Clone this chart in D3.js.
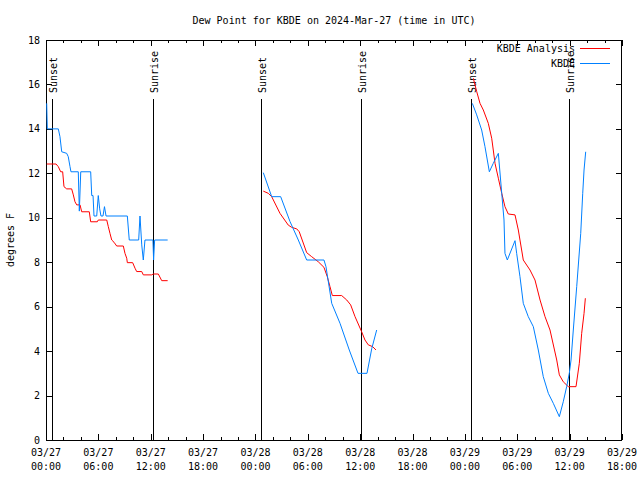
<!DOCTYPE html>
<html>
<head>
<meta charset="utf-8">
<script src="https://cdn.jsdelivr.net/npm/d3@7"></script>
<style>
  html, body { margin: 0; padding: 0; background: #fff; }
  svg { display: block; }
  text { font-family: "DejaVu Sans Mono", monospace; font-size: 10px; fill: #000; }
</style>
</head>
<body>
<div id="chart"></div>
<script>
// ---- Data (hours after 2024-03-27 00:00 UTC; dew point in °F; null = gap) ----
const titleText = "Dew Point for KBDE on 2024-Mar-27 (time in UTC)";
const yLabel = "degrees F";
const yTicks = [0, 2, 4, 6, 8, 10, 12, 14, 16, 18];
const xTickHours = [0, 6, 12, 18, 24, 30, 36, 42, 48, 54, 60, 66];
const seriesNames = ["KBDE Analysis", "KBDE"];
const seriesColors = ["#ff0000", "#0080ff"];

const obsHours = [0.08, 0.15, 1.41, 1.60, 1.80, 2.37, 2.55, 2.75, 2.86, 3.70, 3.82, 3.98, 5.12, 5.24, 5.39, 5.50, 5.81, 5.99, 6.15, 6.30, 6.53, 6.70, 6.88, 9.32, 9.54, 10.62, 10.77, 10.97, 11.15, 11.34, 12.25, 12.33, 12.45, 13.94,
  null,
  24.90, 25.86, 26.89, 27.96, 28.91, 29.87, 31.85, 32.08, 32.74, 33.69, 34.75, 35.75, 36.78, 37.32, 37.89,
  null,
  48.85, 49.35, 49.92, 50.30, 50.80, 51.25, 51.83, 52.22, 52.48, 52.59, 52.86, 53.74, 53.93, 54.31, 54.69, 55.26, 55.84, 56.41, 56.98, 57.56, 58.13, 58.82, 59.27, 59.66, 59.96, 60.16, 60.42, 60.81, 61.27, 61.50, 61.65, 61.84];
const obsDew = [15.15, 14.0, 14.0, 13.65, 12.97, 12.9, 12.75, 12.3, 12.07, 12.07, 10.3, 12.07, 12.07, 11.0, 11.0, 10.08, 10.08, 11.0, 10.4, 10.08, 10.08, 10.5, 10.08, 10.08, 9.0, 9.0, 10.08, 8.78, 8.1, 9.0, 9.0, 8.1, 9.0, 9.0,
  null,
  12.03, 10.95, 10.95, 9.83, 9.0, 8.1, 8.1, 7.8, 6.15, 5.25, 4.05, 3.0, 3.0, 4.1, 4.95,
  null,
  15.15, 14.63, 13.95, 13.2, 12.07, 12.45, 12.9, 11.1, 9.9, 8.4, 8.1, 8.97, 8.4, 7.35, 6.15, 5.55, 5.1, 4.05, 2.85, 2.1, 1.65, 1.05, 1.72, 2.4, 3.0, 3.6, 4.95, 6.9, 9.3, 11.1, 12.15, 12.97];

const anaHours = [0.08, 1.15, 1.41, 1.68, 1.91, 2.06, 2.37, 2.94, 3.13, 3.32, 3.52, 3.90, 4.09, 4.96, 5.12, 5.88, 5.99, 6.96, 7.14, 7.33, 7.53, 7.79, 8.10, 8.86, 9.05, 9.25, 9.32, 9.93, 10.20, 10.39, 10.97, 11.15, 12.11, 12.29, 12.87, 13.26, 13.94,
  null,
  24.90, 25.47, 25.86, 26.81, 27.76, 28.15, 28.73, 29.02, 29.87, 30.44, 31.20, 31.85, 32.23, 32.54, 32.81, 33.88, 34.46, 34.91, 35.41, 36.17, 36.55, 36.93, 37.43, 37.81,
  null,
  48.96, 49.35, 49.73, 50.11, 50.68, 51.07, 51.25, 51.45, 51.83, 52.22, 52.59, 52.97, 53.74, 54.12, 54.31, 54.69, 55.46, 56.03, 56.61, 57.18, 57.75, 58.52, 58.82, 59.27, 59.85, 60.73, 61.11, 61.38, 61.65, 61.80];
const anaDew = [12.42, 12.42, 12.3, 12.07, 12.07, 11.4, 11.3, 11.3, 11.03, 10.72, 10.58, 10.58, 10.27, 10.27, 9.82, 9.82, 9.9, 9.9, 9.6, 9.3, 9.0, 8.9, 8.73, 8.73, 8.4, 8.18, 7.98, 7.98, 7.73, 7.58, 7.58, 7.43, 7.43, 7.47, 7.47, 7.17, 7.17,
  null,
  11.2, 11.1, 10.95, 10.2, 9.67, 9.57, 9.5, 9.37, 8.43, 8.25, 8.02, 7.77, 7.35, 6.9, 6.5, 6.5, 6.3, 6.08, 5.55, 4.87, 4.5, 4.28, 4.2, 4.05,
  null,
  16.28, 15.68, 15.15, 14.85, 14.25, 13.58, 13.05, 12.45, 11.78, 11.1, 10.5, 10.17, 10.13, 9.45, 9.0, 8.1, 7.65, 7.2, 6.3, 5.55, 4.95, 3.6, 2.93, 2.62, 2.4, 2.4, 3.45, 4.8, 5.7, 6.38];

const sunHours = [0.65, 12.22, 24.6, 36.13, 48.66, 59.96];
const sunLabels = ["Sunset", "Sunrise", "Sunset", "Sunrise", "Sunset", "Sunrise"];

// ---- Layout ----
const W = 640, H = 480;
const M = { left: 46, right: 18, top: 40, bottom: 40 };
const base = Date.UTC(2024, 2, 27, 0, 0);
const hToDate = h => new Date(base + h * 3600e3);

const svg = d3.select("#chart").append("svg").attr("width", W).attr("height", H);
svg.append("rect").attr("width", W).attr("height", H).attr("fill", "#fff");

const x = d3.scaleUtc().domain([hToDate(0), hToDate(66)]).range([M.left, W - M.right]);
const y = d3.scaleLinear().domain([0, 18]).range([H - M.bottom, M.top]);
const x0 = M.left, x1 = W - M.right, y0 = H - M.bottom, y1 = M.top;

// title
svg.append("text").attr("x", (x0 + x1) / 2).attr("y", 24).attr("text-anchor", "middle").text(titleText);

// y axis label
svg.append("text").attr("transform", `translate(14,${(y0 + y1) / 2}) rotate(-90)`)
  .attr("text-anchor", "middle").text(yLabel);

const g = svg.append("g").attr("shape-rendering", "crispEdges");

// y ticks (left, inward; mirrored on right)
yTicks.forEach(v => {
  const yy = Math.round(y(v)) + 0.5;
  g.append("line").attr("x1", x0).attr("x2", x0 + 6).attr("y1", yy).attr("y2", yy).attr("stroke", "#000");
  g.append("line").attr("x1", x1 - 6).attr("x2", x1).attr("y1", yy).attr("y2", yy).attr("stroke", "#000");
  svg.append("text").attr("x", 40).attr("y", y(v) + 3.5).attr("text-anchor", "end").text(v);
});

// x ticks: major every 6h, minor every 2h
const minorHours = d3.range(0, 67, 2).filter(h => h % 6 !== 0);
xTickHours.forEach(h => {
  const xx = Math.round(x(hToDate(h))) + 0.5;
  g.append("line").attr("x1", xx).attr("x2", xx).attr("y1", y0).attr("y2", y0 - 6).attr("stroke", "#000");
  g.append("line").attr("x1", xx).attr("x2", xx).attr("y1", y1).attr("y2", y1 + 6).attr("stroke", "#000");
  const d = hToDate(h);
  svg.append("text").attr("x", x(d)).attr("y", 456).attr("text-anchor", "middle").text(d3.utcFormat("%m/%d")(d));
  svg.append("text").attr("x", x(d)).attr("y", 470).attr("text-anchor", "middle").text(d3.utcFormat("%H:%M")(d));
});
minorHours.forEach(h => {
  const xx = Math.round(x(hToDate(h))) + 0.5;
  g.append("line").attr("x1", xx).attr("x2", xx).attr("y1", y0).attr("y2", y0 - 3).attr("stroke", "#000");
  g.append("line").attr("x1", xx).attr("x2", xx).attr("y1", y1).attr("y2", y1 + 3).attr("stroke", "#000");
});

// sunrise / sunset lines
sunHours.forEach((h, i) => {
  const xx = Math.round(x(hToDate(h))) + 0.5;
  g.append("line").attr("x1", xx).attr("x2", xx).attr("y1", 99).attr("y2", y0).attr("stroke", "#000");
  svg.append("text").attr("transform", `translate(${xx + 4.5},93) rotate(-90)`)
    .attr("text-anchor", "start").text(sunLabels[i]);
});

// frame
g.append("rect").attr("x", x0 + 0.5).attr("y", y1 + 0.5).attr("width", x1 - x0 - 1).attr("height", y0 - y1)
  .attr("fill", "none").attr("stroke", "#000");

// series
const line = d3.line()
  .defined(d => d[1] !== null && d[0] !== null)
  .x(d => x(hToDate(d[0])))
  .y(d => y(d[1]));
const anaPts = anaHours.map((h, i) => [h, anaDew[i]]);
const obsPts = obsHours.map((h, i) => [h, obsDew[i]]);
svg.append("path").attr("d", line(anaPts)).attr("fill", "none").attr("stroke", seriesColors[0]).attr("stroke-width", 1);
svg.append("path").attr("d", line(obsPts)).attr("fill", "none").attr("stroke", seriesColors[1]).attr("stroke-width", 1);

// legend
const legY = [48.5, 63.5];
seriesNames.forEach((n, i) => {
  svg.append("text").attr("x", 575).attr("y", legY[i] + 3.5).attr("text-anchor", "end").text(n);
  g.append("line").attr("x1", 580).attr("x2", 610).attr("y1", legY[i]).attr("y2", legY[i]).attr("stroke", seriesColors[i]);
});
</script>
</body>
</html>
